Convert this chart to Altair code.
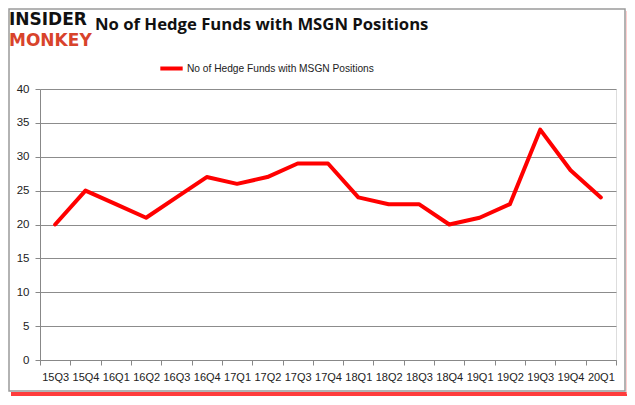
import altair as alt
import pandas as pd

quarters = ["15Q3", "15Q4", "16Q1", "16Q2", "16Q3", "16Q4", "17Q1", "17Q2", "17Q3", "17Q4",
            "18Q1", "18Q2", "18Q3", "18Q4", "19Q1", "19Q2", "19Q3", "19Q4", "20Q1"]
funds = [20, 25, 23, 21, 24, 27, 26, 27, 29, 29, 24, 23, 23, 20, 21, 23, 34, 28, 24]
series_name = "No of Hedge Funds with MSGN Positions"
title_text = "No of Hedge Funds with MSGN Positions"

df = pd.DataFrame({"quarter": quarters, "funds": funds, "series": series_name})
one = pd.DataFrame({"k": [0]})

W, H = 576, 271
FONT = "Liberation Sans"

frame = alt.Chart(one).mark_rect(
    fill="white", fillOpacity=0, stroke="#9a9a9a", strokeWidth=1.5
).encode(
    x=alt.value(-31), x2=alt.value(585), y=alt.value(-80), y2=alt.value(302)
)

shadow = alt.Chart(one).mark_rule(
    color="#ff1a1a", strokeWidth=4, opacity=0.85
).encode(
    x=alt.value(-29), x2=alt.value(587), y=alt.value(305)
)

shadow_r = alt.Chart(one).mark_rule(
    color="#ffb0b0", strokeWidth=2.5, opacity=0.8
).encode(
    x=alt.value(587.5), y=alt.value(-78), y2=alt.value(305)
)

line = alt.Chart(df).mark_line(strokeWidth=4, strokeJoin="round", strokeCap="round").encode(
    x=alt.X("quarter:O", sort=quarters, bandPosition=0.5,
            scale=alt.Scale(type="band", paddingInner=0, paddingOuter=0),
            axis=alt.Axis(title=None, labelAngle=0, tickBand="extent", grid=False,
                          domainColor="#888888", tickColor="#888888", tickSize=5,
                          labelFont=FONT, labelFontSize=11, labelColor="#222222",
                          labelPadding=6)),
    y=alt.Y("funds:Q", scale=alt.Scale(domain=[0, 40]),
            axis=alt.Axis(title=None, values=[0, 5, 10, 15, 20, 25, 30, 35, 40],
                          grid=True, gridColor="#8c8c8c", domainColor="#888888",
                          tickColor="#888888", tickSize=5,
                          labelFont=FONT, labelFontSize=11.5, labelColor="#222222",
                          labelPadding=6)),
    color=alt.Color("series:N", scale=alt.Scale(range=["#ff0000"]),
                    legend=alt.Legend(title=None, orient="none", legendX=118, legendY=-34,
                                      symbolType="stroke", symbolStrokeWidth=4,
                                      symbolSize=500, labelFont=FONT,
                                      labelFontSize=10.2, labelColor="#222222",
                                      labelLimit=400, labelOffset=2)),
)

title = alt.Chart(one).mark_text(
    text=title_text, font="Open Sans", fontSize=16.7, fontWeight="bold",
    color="#111111", align="left", baseline="middle"
).encode(x=alt.value(55), y=alt.value(-64))

logo1 = alt.Chart(one).mark_text(
    text="INSIDER", font="DejaVu Sans", fontSize=17, fontWeight="bold",
    color="#111111", align="left", baseline="middle"
).encode(x=alt.value(-31), y=alt.value(-69))

logo2 = alt.Chart(one).mark_text(
    text="MONKEY", font="DejaVu Sans", fontSize=17, fontWeight="bold",
    color="#d8432b", align="left", baseline="middle"
).encode(x=alt.value(-31), y=alt.value(-48))

chart = alt.layer(frame, shadow, shadow_r, line, title, logo1, logo2).properties(
    width=W, height=H,
    autosize=alt.AutoSizeParams(type="none"),
    padding={"left": 32, "top": 81, "right": 11, "bottom": 37},
).configure_view(stroke=None).configure(background="white")

chart.save("out.html", embed_options={"renderer": "svg", "actions": False})
